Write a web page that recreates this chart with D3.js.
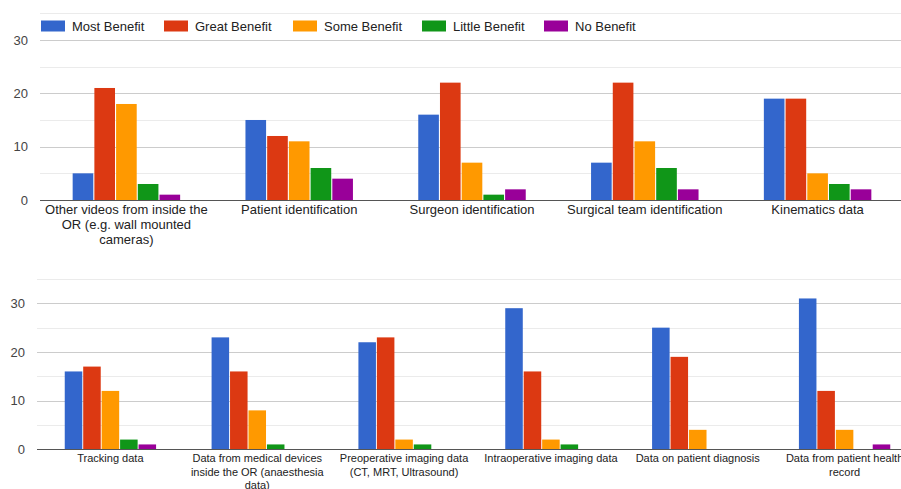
<!DOCTYPE html>
<html><head><meta charset="utf-8">
<script src="https://cdn.jsdelivr.net/npm/d3@7"></script>
<style>html,body{margin:0;padding:0;background:#fff;}svg{display:block;font-family:"Liberation Sans",Arial,sans-serif;}</style>
</head><body>
<svg id="c" width="901" height="489"></svg>
<script>
const series = ["Most Benefit","Great Benefit","Some Benefit","Little Benefit","No Benefit"];
const colors = ["#3366cc","#dc3912","#ff9900","#109618","#990099"];

const topCategories = ["Other videos from inside the OR (e.g. wall mounted cameras)","Patient identification","Surgeon identification","Surgical team identification","Kinematics data"];
const topMost   = [5, 15, 16, 7, 19];
const topGreat  = [21, 12, 22, 22, 19];
const topSome   = [18, 11, 7, 11, 5];
const topLittle = [3, 6, 1, 6, 3];
const topNo     = [1, 4, 2, 2, 2];

const botCategories = ["Tracking data","Data from medical devices inside the OR (anaesthesia data)","Preoperative imaging data (CT, MRT, Ultrasound)","Intraoperative imaging data","Data on patient diagnosis","Data from patient health record"];
const botMost   = [16, 23, 22, 29, 25, 31];
const botGreat  = [17, 16, 23, 16, 19, 12];
const botSome   = [12, 8, 2, 2, 4, 4];
const botLittle = [2, 1, 1, 1, 0, 0];
const botNo     = [1, 0, 0, 0, 0, 1];

const yTicks = [0, 10, 20, 30];
const gridTicks = [5, 10, 15, 20, 25, 30, 35];

const svg = d3.select("#c");

function drawPanel(cfg) {
  const {cats, vals, x0, x1, y0, y1, fontSize, labelY, lineH, wrapW} = cfg;
  const g = svg.append("g");
  const y = d3.scaleLinear().domain([0, 35]).range([y0, y1]);
  const xb = d3.scaleBand().domain(cats).range([x0, x1]).paddingInner(0.378).paddingOuter(0.189);
  const xi = d3.scaleBand().domain(series).range([0, xb.bandwidth()]).paddingInner(0.05);

  g.selectAll("line.grid").data(gridTicks).join("line")
    .attr("x1", x0).attr("x2", 901)
    .attr("y1", d => Math.round(y(d)) + 0.5).attr("y2", d => Math.round(y(d)) + 0.5)
    .attr("stroke", d => d % 10 === 0 ? "#cccccc" : "#ebebeb").attr("stroke-width", 1);

  // y tick labels via axis
  const ax = g.append("g").attr("transform", `translate(${x0},0)`)
    .call(d3.axisLeft(y).tickValues(yTicks).tickSize(0).tickPadding(12));
  ax.select(".domain").remove();
  ax.selectAll("text").attr("font-size", 13).attr("fill", "#444").attr("font-family", "Liberation Sans, Arial, sans-serif");

  const groups = g.selectAll("g.grp").data(cats).join("g")
    .attr("transform", d => `translate(${xb(d)},0)`);
  groups.selectAll("rect").data((d, i) => series.map((s, k) => ({s, k, v: vals[k][i]}))).join("rect")
    .attr("x", d => xi(d.s)).attr("width", xi.bandwidth())
    .attr("y", d => y(d.v)).attr("height", d => y(0) - y(d.v))
    .attr("fill", d => colors[d.k]);

  g.append("line").attr("x1", x0).attr("x2", 901)
    .attr("y1", Math.round(y(0)) + 0.5).attr("y2", Math.round(y(0)) + 0.5)
    .attr("stroke", "#555").attr("stroke-width", 1.2);

  // category labels with word wrap
  cats.forEach(c => {
    const t = g.append("text").attr("text-anchor", "middle").attr("font-size", fontSize).attr("fill", "#222")
      .attr("x", xb(c) + xb.bandwidth() / 2).attr("y", labelY);
    const words = c.split(" ");
    let line = [], lineNo = 0;
    let ts = t.append("tspan").attr("x", xb(c) + xb.bandwidth() / 2).attr("dy", 0);
    words.forEach(w => {
      line.push(w);
      ts.text(line.join(" "));
      if (ts.node().getComputedTextLength() > wrapW && line.length > 1) {
        line.pop();
        ts.text(line.join(" "));
        line = [w];
        lineNo++;
        ts = t.append("tspan").attr("x", xb(c) + xb.bandwidth() / 2).attr("dy", lineH).text(w);
      }
    });
  });
}

drawPanel({cats: topCategories, vals: [topMost, topGreat, topSome, topLittle, topNo],
  x0: 40, x1: 904, y0: 200, y1: 13.3, fontSize: 13, labelY: 214, lineH: 15, wrapW: 170});
drawPanel({cats: botCategories, vals: [botMost, botGreat, botSome, botLittle, botNo],
  x0: 37, x1: 918, y0: 449.3, y1: 279, fontSize: 11, labelY: 462, lineH: 13.5, wrapW: 140});

// legend
const legX = [41, 164, 293, 422, 544];
const leg = svg.append("g");
series.forEach((s, i) => {
  leg.append("rect").attr("x", legX[i]).attr("y", 20.5).attr("width", 24).attr("height", 11).attr("fill", colors[i]);
  leg.append("text").attr("x", legX[i] + 31).attr("y", 30.5).attr("font-size", 13).attr("fill", "#222").text(s);
});
</script>
</body></html>
